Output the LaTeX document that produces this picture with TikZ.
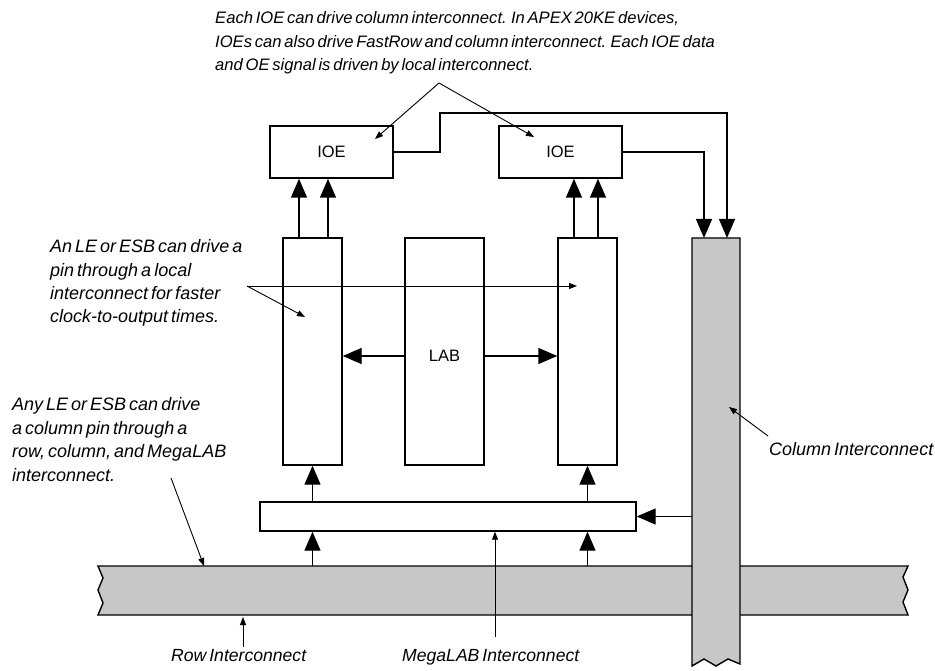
\documentclass[tikz,border=0pt]{standalone}
\usepackage{fontspec}
\setmainfont{Liberation Sans}[WordSpace=0.6]
\usetikzlibrary{arrows.meta,calc}
\begin{document}
\begin{tikzpicture}[x=1pt,y=-1pt,
  box/.style={draw,line width=1.4pt,inner sep=0pt,font=\fontsize{16.5}{18}\selectfont},
  bigarrow/.style={line width=1.4pt,-{Triangle[length=19pt,width=16pt]}},
  thin/.style={line width=0.9pt,-{Triangle[length=8pt,width=6pt]}},
  note/.style={anchor=base west,align=left,inner sep=0pt,font=\fontsize{18}{23.5}\selectfont\itshape},
  bus/.style={fill=black!22,draw,line width=1.4pt}]
\useasboundingbox (0,0) rectangle (935,671);
% row interconnect
\path[bus] (98,566) -- (908,566) -- (903,577) -- (908,590) -- (903,602) -- (908,615)
  -- (98,615) -- (103,603) -- (98,590) -- (103,578) -- cycle;
% column interconnect
\path[bus] (692,238) -- (740,238) -- (740,664) -- (728,659) -- (716,666) -- (704,659) -- (692,666) -- cycle;
\coordinate (colTL) at (692,238);
\coordinate (rowtop) at (0,566);
% boxes
\node[box,minimum width=123pt,minimum height=52pt] (ioeL) at (331.5,152) {IOE};
\node[box,minimum width=123pt,minimum height=52pt] (ioeR) at (560.5,152) {IOE};
\node[box,minimum width=59pt,minimum height=227pt] (leL) at (312.5,351.5) {};
\node[box,minimum width=79pt,minimum height=227pt] (lab) at (444.5,351.5) {};
\node[font=\fontsize{16.5}{18}\selectfont] (labtxt) at (444.5,356) {LAB};
\node[box,minimum width=59pt,minimum height=227pt] (leR) at (587.5,351.5) {};
\node[box,minimum width=376pt,minimum height=29pt] (mega) at (448,516.5) {};
% LE -> IOE
\draw[bigarrow] ([xshift=-13.5pt]leL.north) -- ([xshift=-13.5pt]leL.north |- ioeL.south);
\draw[bigarrow] ([xshift=15.5pt]leL.north) -- ([xshift=15.5pt]leL.north |- ioeL.south);
\draw[bigarrow] ([xshift=-13.5pt]leR.north) -- ([xshift=-13.5pt]leR.north |- ioeR.south);
\draw[bigarrow] ([xshift=10.5pt]leR.north) -- ([xshift=10.5pt]leR.north |- ioeR.south);
% LAB -> LE
\draw[bigarrow] ([yshift=-4.5pt]lab.west) -- ([yshift=-4.5pt]lab.west -| leL.east);
\draw[bigarrow] ([yshift=-4.5pt]lab.east) -- ([yshift=-4.5pt]lab.east -| leR.west);
% MegaLAB -> LE
\draw[bigarrow] (mega.north -| leL.south) -- (leL.south);
\draw[bigarrow] (mega.north -| leR.south) -- (leR.south);
% Row -> MegaLAB
\draw[bigarrow] (rowtop -| leL.south) -- (mega.south -| leL.south);
\draw[bigarrow] (rowtop -| leR.south) -- (mega.south -| leR.south);
% Column -> MegaLAB
\draw[bigarrow] (mega.east -| colTL) -- (mega.east);
% IOE -> Column
\draw[bigarrow] (ioeL.east) -- (440,152) -- (440,113) -- (727,113) -- (727,238);
\draw[bigarrow] (ioeR.east) -- (704,152) -- (704,238);
% annotations
\node[note,font=\fontsize{16.6}{23.5}\selectfont\itshape] (t1) at (215,71) {Each IOE can drive column interconnect. In APEX 20KE devices,\\IOEs can also drive FastRow and column interconnect. Each IOE data\\and OE signal is driven by local interconnect.};
\coordinate (apex) at (439,83);
\draw[thin] (apex) -- (375,139);
\draw[thin] (apex) -- (534,137);
\node[note] (t2) at (50,323) {An LE or ESB can drive a\\pin through a local\\interconnect for faster\\clock-to-output times.};
\coordinate (a2) at (247,286);
\draw[thin] (a2) -- (577,286);
\draw[thin] (a2) -- (305,317);
\node[note] (t3) at (12,481) {Any LE or ESB can drive\\a column pin through a\\row, column, and MegaLAB\\interconnect.};
\draw[thin] (171,478) -- (204,566);
\node[note] (t4) at (769,455) {Column Interconnect};
\draw[thin] (768,436) -- (729,407);
\node[note,font=\fontsize{17.6}{23.5}\selectfont\itshape] (t5) at (171,661) {Row Interconnect};
\draw[thin] (243,647) -- (243,617);
\node[note,font=\fontsize{17.6}{23.5}\selectfont\itshape] (t6) at (402,661) {MegaLAB Interconnect};
\draw[thin] (495,637) -- (mega.south -| 495,0);
\end{tikzpicture}
\end{document}
